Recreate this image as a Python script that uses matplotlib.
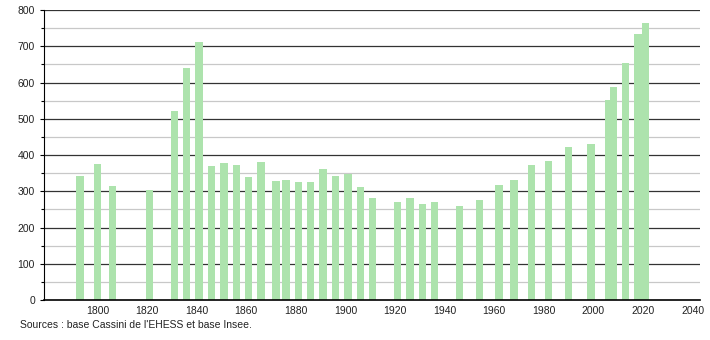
import matplotlib
matplotlib.use("Agg")
import matplotlib.pyplot as plt
from matplotlib.ticker import MultipleLocator

plt.rcParams['font.family'] = ['Liberation Sans', 'DejaVu Sans']

# census years and population
years = [1793, 1800, 1806, 1821, 1831, 1836, 1841, 1846, 1851, 1856, 1861, 1866,
         1872, 1876, 1881, 1886, 1891, 1896, 1901, 1906, 1911, 1921, 1926, 1931,
         1936, 1946, 1954, 1962, 1968, 1975, 1982, 1990, 1999, 2006, 2008, 2013,
         2018, 2021]
population = [342, 375, 314, 303, 521, 639, 712, 370, 378, 372, 339, 381,
              328, 331, 326, 326, 361, 341, 348, 311, 281, 270, 281, 266,
              270, 259, 277, 317, 331, 372, 383, 422, 430, 552, 587, 653,
              734, 764]
x_ticks = list(range(1800, 2041, 20))
source = "Sources : base Cassini de l'EHESS et base Insee."

fig = plt.figure(figsize=(7.1, 3.4), dpi=100)
ax = fig.add_axes([0.062, 0.1176, 0.924, 0.853])

# gridlines: dark every 100, light every 50
for v in range(50, 800, 100):
    ax.axhline(v, color='#c8c8c8', lw=0.9, zorder=0)
for v in range(100, 801, 100):
    ax.axhline(v, color='#333333', lw=0.9, zorder=0)

ax.bar(years, population, width=3.0, color='#ade3ad', zorder=2)

ax.set_xlim(1778.5, 2043)
ax.set_ylim(0, 800)
ax.set_xticks(x_ticks)
ax.set_xticklabels([str(t) for t in x_ticks], fontsize=7.5, color='#222222')
ax.yaxis.set_major_locator(MultipleLocator(100))
ax.yaxis.set_minor_locator(MultipleLocator(50))
ax.tick_params(axis='y', which='major', length=3, labelsize=7.5, labelcolor='#222222', width=0.8)
ax.tick_params(axis='y', which='minor', length=2, width=0.8)
ax.tick_params(axis='x', length=0, pad=4)

for s in ['top', 'right']:
    ax.spines[s].set_visible(False)
ax.spines['left'].set_color('black')
ax.spines['bottom'].set_color('black')
ax.spines['bottom'].set_linewidth(1.2)

fig.text(0.028, 0.035, source, fontsize=7.5, color='#222222')

fig.savefig("out.png", dpi=100)
